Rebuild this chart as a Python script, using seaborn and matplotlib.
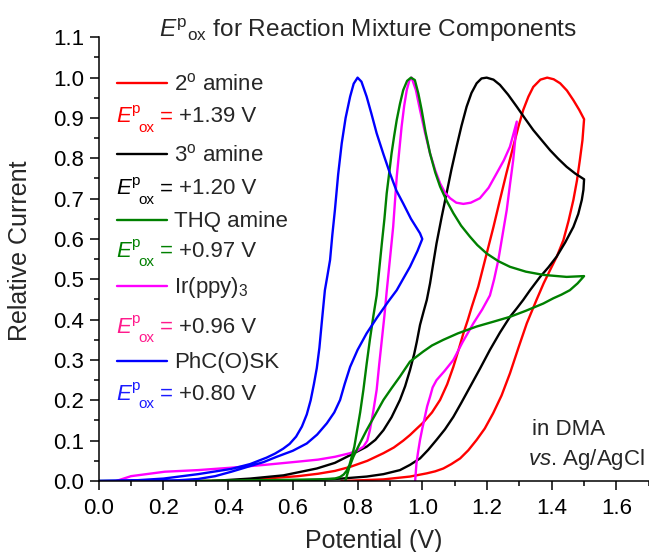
import numpy as np
import pandas as pd
import matplotlib
matplotlib.use("Agg")
import matplotlib.pyplot as plt
from matplotlib.lines import Line2D
from matplotlib.ticker import MultipleLocator, FormatStrFormatter
import seaborn as sns

# ---------------- data ----------------
red_x = [0.30, 0.40, 0.468, 0.513, 0.616, 0.678, 0.730, 0.777, 0.830, 0.880, 0.912, 0.941, 0.962, 0.983, 1.003,
         1.030, 1.055, 1.077, 1.096, 1.112, 1.127, 1.141, 1.153, 1.173, 1.199, 1.220, 1.240, 1.260, 1.281, 1.297,
         1.312, 1.328, 1.343, 1.365, 1.386, 1.406, 1.426, 1.447, 1.467, 1.485, 1.500, 1.495, 1.487, 1.478, 1.467,
         1.452, 1.436, 1.416, 1.395, 1.375, 1.353, 1.323, 1.297, 1.271, 1.245, 1.219, 1.193, 1.168, 1.142, 1.117,
         1.090, 1.065, 1.040, 1.014, 0.962, 0.880, 0.750]
red_y = [0.000, 0.001, 0.003, 0.006, 0.012, 0.018, 0.025, 0.035, 0.050, 0.069, 0.083, 0.100, 0.114, 0.130, 0.145,
         0.170, 0.201, 0.240, 0.283, 0.325, 0.366, 0.400, 0.432, 0.482, 0.564, 0.630, 0.697, 0.763, 0.829, 0.878,
         0.920, 0.953, 0.977, 0.995, 1.000, 0.996, 0.986, 0.968, 0.944, 0.920, 0.897, 0.845, 0.796, 0.745, 0.697,
         0.645, 0.597, 0.557, 0.523, 0.490, 0.449, 0.391, 0.330, 0.267, 0.212, 0.168, 0.130, 0.102, 0.076, 0.056,
         0.042, 0.031, 0.024, 0.019, 0.011, 0.004, 0.000]

black_x = [0.35, 0.468, 0.571, 0.674, 0.730, 0.777, 0.828, 0.855, 0.880, 0.905, 0.931, 0.947, 0.962, 0.975, 0.983,
           0.993, 1.004, 1.014, 1.024, 1.034, 1.044, 1.060, 1.075, 1.090, 1.106, 1.121, 1.137, 1.152, 1.168, 1.183,
           1.199, 1.220, 1.240, 1.265, 1.292, 1.318, 1.343, 1.370, 1.395, 1.420, 1.446, 1.473, 1.500, 1.498, 1.493,
           1.482, 1.467, 1.442, 1.415, 1.390, 1.364, 1.333, 1.312, 1.292, 1.271, 1.240, 1.209, 1.178, 1.148, 1.120,
           1.096, 1.070, 1.044, 1.018, 0.993, 0.962, 0.931, 0.880, 0.828, 0.750, 0.674, 0.550]
black_y = [0.000, 0.006, 0.014, 0.031, 0.045, 0.064, 0.085, 0.102, 0.126, 0.158, 0.201, 0.235, 0.275, 0.315, 0.345,
           0.387, 0.420, 0.449, 0.490, 0.540, 0.589, 0.655, 0.713, 0.772, 0.829, 0.880, 0.928, 0.962, 0.986, 0.998,
           1.000, 0.995, 0.982, 0.958, 0.928, 0.898, 0.870, 0.844, 0.820, 0.799, 0.779, 0.762, 0.748, 0.722, 0.697,
           0.662, 0.630, 0.592, 0.556, 0.530, 0.506, 0.473, 0.449, 0.428, 0.407, 0.368, 0.325, 0.278, 0.234, 0.193,
           0.159, 0.128, 0.102, 0.077, 0.056, 0.040, 0.027, 0.017, 0.011, 0.006, 0.003, 0.000]

green_x = [0.00, 0.30, 0.50, 0.68, 0.730, 0.746, 0.757, 0.766, 0.775, 0.782, 0.790, 0.797, 0.808, 0.818, 0.828,
           0.838, 0.849, 0.859, 0.867, 0.875, 0.883, 0.890, 0.898, 0.905, 0.913, 0.921, 0.931, 0.941, 0.953, 0.965,
           0.977, 0.988, 0.998, 1.010, 1.024, 1.040, 1.055, 1.075, 1.096, 1.120, 1.147, 1.170, 1.199, 1.235, 1.271,
           1.320, 1.374, 1.446, 1.500, 1.480, 1.456, 1.430, 1.405, 1.374, 1.320, 1.271, 1.220, 1.168, 1.110, 1.065,
           1.030, 1.003, 0.962, 0.931, 0.905, 0.880, 0.855, 0.828, 0.805, 0.787, 0.775, 0.762, 0.755]
green_y = [0.000, 0.0005, 0.002, 0.004, 0.006, 0.010, 0.016, 0.025, 0.040, 0.060, 0.085, 0.118, 0.170, 0.226, 0.290,
           0.350, 0.410, 0.460, 0.525, 0.589, 0.650, 0.713, 0.765, 0.812, 0.855, 0.895, 0.935, 0.969, 0.992, 1.000,
           0.994, 0.960, 0.920, 0.865, 0.812, 0.765, 0.730, 0.695, 0.664, 0.633, 0.606, 0.585, 0.564, 0.545, 0.531,
           0.519, 0.511, 0.506, 0.508, 0.490, 0.473, 0.462, 0.453, 0.440, 0.422, 0.407, 0.395, 0.383, 0.366, 0.350,
           0.336, 0.321, 0.296, 0.259, 0.230, 0.201, 0.165, 0.126, 0.090, 0.060, 0.035, 0.000, -0.010]

mag_x = [0.054, 0.10, 0.204, 0.307, 0.41, 0.513, 0.616, 0.678, 0.730, 0.777, 0.800, 0.818, 0.830, 0.838, 0.848,
         0.859, 0.867, 0.875, 0.883, 0.890, 0.900, 0.910, 0.921, 0.929, 0.936, 0.944, 0.952, 0.960, 0.967, 0.980,
         0.993, 1.008, 1.024, 1.040, 1.055, 1.070, 1.086, 1.105, 1.127, 1.150, 1.178, 1.205, 1.230, 1.252, 1.271,
         1.292, 1.287, 1.281, 1.271, 1.261, 1.248, 1.235, 1.222, 1.209, 1.185, 1.158, 1.125, 1.096, 1.068, 1.044,
         1.032, 1.024, 1.015, 1.008, 1.000, 0.993, 0.987, 0.982, 0.977]
mag_y = [0.000, 0.012, 0.023, 0.027, 0.033, 0.040, 0.048, 0.053, 0.060, 0.069, 0.076, 0.085, 0.100, 0.126, 0.170,
         0.226, 0.290, 0.350, 0.410, 0.470, 0.550, 0.630, 0.754, 0.820, 0.878, 0.930, 0.969, 0.993, 1.000, 0.970,
         0.920, 0.865, 0.812, 0.770, 0.738, 0.715, 0.701, 0.690, 0.687, 0.690, 0.701, 0.727, 0.763, 0.795, 0.829,
         0.891, 0.845, 0.796, 0.735, 0.672, 0.610, 0.548, 0.500, 0.460, 0.425, 0.391, 0.345, 0.300, 0.272, 0.250,
         0.232, 0.209, 0.185, 0.159, 0.130, 0.102, 0.072, 0.044, -0.010]

blue_x = [0.00, 0.10, 0.20, 0.307, 0.41, 0.468, 0.519, 0.545, 0.570, 0.590, 0.610, 0.628, 0.643, 0.655, 0.665,
          0.674, 0.682, 0.689, 0.695, 0.699, 0.707, 0.715, 0.722, 0.730, 0.740, 0.751, 0.763, 0.777, 0.788, 0.800,
          0.812, 0.828, 0.843, 0.859, 0.880, 0.900, 0.920, 0.941, 0.965, 0.993, 1.000, 0.985, 0.962, 0.940, 0.921,
          0.895, 0.860, 0.828, 0.800, 0.777, 0.760, 0.746, 0.728, 0.705, 0.675, 0.643, 0.600, 0.550, 0.510, 0.468,
          0.41, 0.36, 0.307, 0.25, 0.20, 0.00]
blue_y = [0.000, 0.001, 0.006, 0.017, 0.030, 0.042, 0.058, 0.068, 0.080, 0.092, 0.110, 0.135, 0.165, 0.200, 0.240,
          0.280, 0.330, 0.390, 0.440, 0.473, 0.510, 0.548, 0.610, 0.672, 0.760, 0.837, 0.900, 0.953, 0.985, 1.000,
          0.990, 0.953, 0.910, 0.862, 0.810, 0.763, 0.720, 0.688, 0.650, 0.614, 0.600, 0.570, 0.531, 0.500, 0.473,
          0.445, 0.405, 0.366, 0.325, 0.283, 0.240, 0.201, 0.170, 0.143, 0.115, 0.093, 0.075, 0.060, 0.047, 0.037,
          0.023, 0.012, 0.005, 0.002, 0.001, 0.000]

series_names = ["2$^{\\mathrm{o}}$ amine", "3$^{\\mathrm{o}}$ amine", "THQ amine",
                "Ir(ppy)$_{\\mathrm{3}}$", "PhC(O)SK"]
epox_values = ["+1.39 V", "+1.20 V", "+0.97 V", "+0.96 V", "+0.80 V"]
line_colors = ["#ff0000", "#000000", "#008000", "#ff00ff", "#0000ff"]
epox_colors = ["#ff0000", "#000000", "#008000", "#ff1a8c", "#1a1aff"]

xticks = [0.0, 0.2, 0.4, 0.6, 0.8, 1.0, 1.2, 1.4, 1.6]
yticks = [0.0, 0.1, 0.2, 0.3, 0.4, 0.5, 0.6, 0.7, 0.8, 0.9, 1.0, 1.1]

# ---------------- styling ----------------
sns.set_theme(style="ticks")
plt.rcParams["font.family"] = ["Liberation Sans", "DejaVu Sans"]
plt.rcParams["mathtext.fontset"] = "custom"
plt.rcParams["mathtext.rm"] = "Liberation Sans"
plt.rcParams["mathtext.it"] = "Liberation Sans:italic"
plt.rcParams["mathtext.bf"] = "Liberation Sans:bold"

W, H = 649, 552
fig = plt.figure(figsize=(W / 100, H / 100), dpi=100)
x0, x1 = 98.7, 648.8
y0, y1 = 481.0, 37.3
ax = fig.add_axes([x0 / W, 1 - y0 / H, (x1 - x0) / W, (y0 - y1) / H])

curves = [(red_x, red_y), (black_x, black_y), (mag_x, mag_y), (green_x, green_y), (blue_x, blue_y)]
cols = [line_colors[0], line_colors[1], line_colors[3], line_colors[2], line_colors[4]]
for (cx, cy), c in zip(curves, cols):
    df = pd.DataFrame({"Potential": cx, "Current": cy})
    sns.lineplot(data=df, x="Potential", y="Current", sort=False, estimator=None,
                 color=c, linewidth=1.7, ax=ax)

ax.set_xlim(0, 1.7)
ax.set_ylim(0, 1.1)
ax.set_xticks(xticks)
ax.set_yticks(yticks)
ax.xaxis.set_minor_locator(MultipleLocator(0.1))
ax.yaxis.set_minor_locator(MultipleLocator(0.05))
ax.xaxis.set_major_formatter(FormatStrFormatter("%.1f"))
ax.yaxis.set_major_formatter(FormatStrFormatter("%.1f"))
for s in ["top", "right"]:
    ax.spines[s].set_visible(False)
for s in ["left", "bottom"]:
    ax.spines[s].set_linewidth(1.1)
    ax.spines[s].set_color("black")
ax.tick_params(which="major", direction="out", length=6.5, width=1.1, labelsize=16,
               colors="black", pad=4)
ax.tick_params(axis="x", which="major", pad=6)
ax.tick_params(which="minor", direction="out", length=3.5, width=1.1, colors="black")

ax.set_xlabel("Potential (V)", fontsize=18, labelpad=7)
ax.set_ylabel("Relative Current", fontsize=18)
ax.yaxis.set_label_coords(-0.121, 0.518)

def fx(px):
    return px / W

def fy(py):
    return 1 - py / H

fig.text(fx(159), fy(36.7), r"$\mathit{E}^{\mathrm{p}}{}_{\mathrm{ox}}$ for Reaction Mixture Components",
         fontsize=17.6, ha="left", va="baseline")

# legend block
item_base = [90.5, 161.0, 227.0, 293.0, 368.0]
epox_base = [122.5, 194.5, 257.0, 333.0, 399.5]
for i in range(5):
    yc = item_base[i] - 7.2
    b = epox_base[i]
    c = epox_colors[i]
    fig.add_artist(Line2D([fx(116.7), fx(166.7)], [fy(yc), fy(yc)], color=line_colors[i], linewidth=1.7))
    fig.text(fx(174), fy(item_base[i]), series_names[i], fontsize=16, ha="left", va="baseline")
    fig.text(fx(116.5), fy(b), "E", style="italic", color=c, fontsize=16, ha="left", va="baseline")
    fig.text(fx(131.5), fy(b - 9.5), "p", color=c, fontsize=11, ha="left", va="baseline")
    fig.text(fx(138.0), fy(b + 9.0), "ox", color=c, fontsize=11, ha="left", va="baseline")
    fig.text(fx(159.5), fy(b), "=", color=c, fontsize=16, ha="left", va="baseline")
    fig.text(fx(179), fy(b), epox_values[i], fontsize=16, ha="left", va="baseline")

fig.text(fx(531.5), fy(435), "in DMA", fontsize=16, ha="left", va="baseline")
fig.text(fx(528), fy(465.5), r"$\mathit{vs}$. Ag/AgCl", fontsize=16, ha="left", va="baseline")

fig.savefig("out.png", dpi=100)
